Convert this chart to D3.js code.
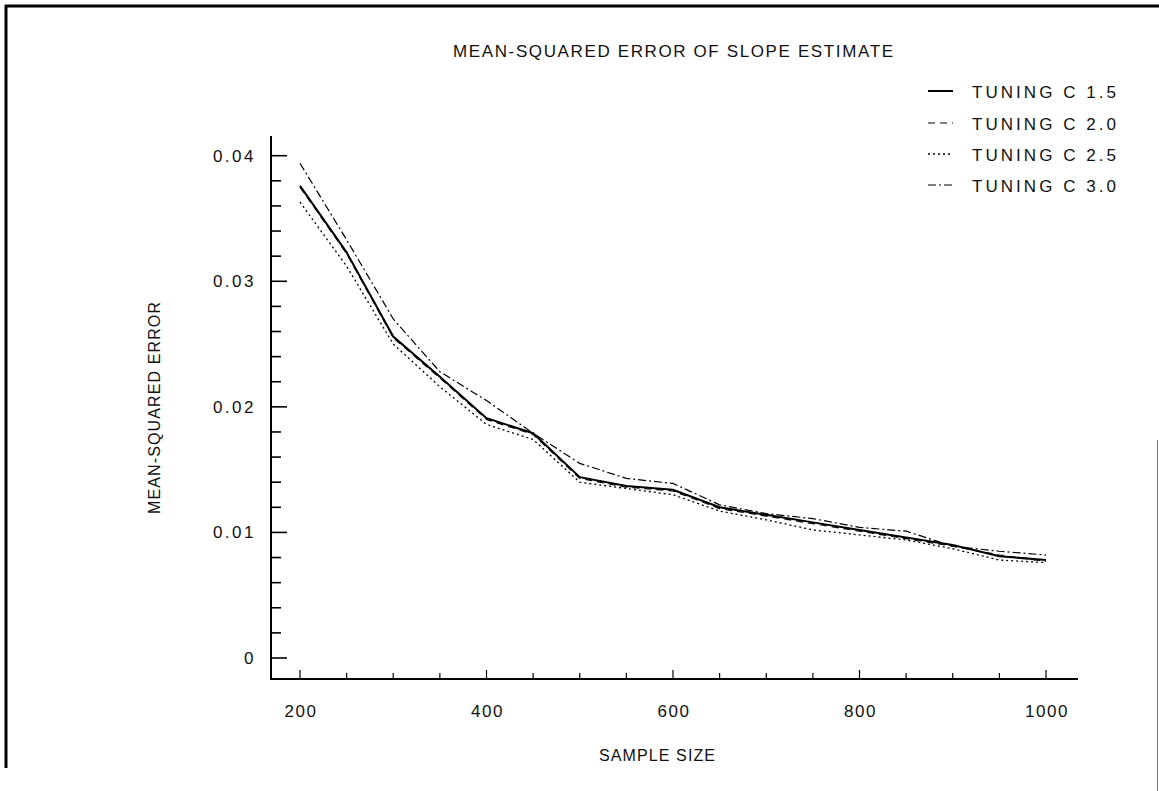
<!DOCTYPE html>
<html><head><meta charset="utf-8">
<script src="https://cdn.jsdelivr.net/npm/d3@7"></script>
<style>
html,body{margin:0;padding:0;background:#fff;}
text{font-family:"Liberation Sans","DejaVu Sans",sans-serif;fill:#111;}
</style></head>
<body>
<svg id="c" width="1159" height="791"></svg>
<script>
const sampleSizes = [200,250,300,350,400,450,500,550,600,650,700,750,800,850,900,950,1000];
const tuning15 = [0.0376,0.0323,0.0256,0.0224,0.0191,0.0179,0.0144,0.0137,0.0134,0.0120,0.0114,0.0108,0.0102,0.0096,0.0090,0.0081,0.0078];
const tuning20 = [0.0375,0.0322,0.0255,0.0223,0.0190,0.0178,0.0143,0.0136,0.0133,0.0119,0.0113,0.0107,0.0101,0.0095,0.0089,0.0082,0.0077];
const tuning25 = [0.0363,0.0312,0.0250,0.0216,0.0186,0.0174,0.0140,0.0135,0.0130,0.0117,0.0110,0.0102,0.0098,0.0094,0.0087,0.0078,0.0076];
const tuning30 = [0.0394,0.0333,0.0270,0.0228,0.0205,0.0179,0.0155,0.0143,0.0139,0.0122,0.0115,0.0111,0.0104,0.0101,0.0089,0.0085,0.0082];
const seriesNames = ["TUNING C 1.5","TUNING C 2.0","TUNING C 2.5","TUNING C 3.0"];
const xTicks = [200,400,600,800,1000];
const yTicks = [0,0.01,0.02,0.03,0.04];
const titleText = "MEAN-SQUARED ERROR OF SLOPE ESTIMATE";
const xTitle = "SAMPLE SIZE";
const yTitle = "MEAN-SQUARED ERROR";

const svg = d3.select("#c");
const x = d3.scaleLinear().domain([200,1000]).range([300,1046]);
const y = d3.scaleLinear().domain([0,0.04]).range([658,155.7]);
const xAxisY = 679, yAxisX = 271;
const xEnd = 1078, yTop = 136;

// frame
svg.append("line").attr("x1",5).attr("x2",1159).attr("y1",6).attr("y2",6).attr("stroke","#000").attr("stroke-width",3);
svg.append("line").attr("x1",6).attr("x2",6).attr("y1",5).attr("y2",768).attr("stroke","#000").attr("stroke-width",3);
svg.append("line").attr("x1",1157.5).attr("x2",1157.5).attr("y1",440).attr("y2",791).attr("stroke","#777").attr("stroke-width",1);

// axes lines
svg.append("line").attr("x1",yAxisX).attr("x2",yAxisX).attr("y1",yTop).attr("y2",xAxisY+1).attr("stroke","#000").attr("stroke-width",2);
svg.append("line").attr("x1",yAxisX).attr("x2",xEnd).attr("y1",xAxisY).attr("y2",xAxisY).attr("stroke","#000").attr("stroke-width",2);

// y ticks
const yMinor = d3.range(0,0.0411,0.002);
svg.append("g").selectAll("line").data(yMinor).join("line")
  .attr("x1",yAxisX).attr("y1",d=>y(d)).attr("y2",d=>y(d))
  .attr("x2",d=>Math.abs(d/0.01-Math.round(d/0.01))<1e-6 ? yAxisX+16 : yAxisX+10)
  .attr("stroke","#000").attr("stroke-width",1.6);
svg.append("g").selectAll("text").data(yTicks).join("text")
  .attr("x",256).attr("y",d=>y(d)+6).attr("text-anchor","end")
  .style("font-size","17px").style("letter-spacing","2.5px")
  .text(d=>d===0?"0":d3.format(".2f")(d));

// x ticks
const xMinor = d3.range(200,1001,50);
svg.append("g").selectAll("line").data(xMinor).join("line")
  .attr("x1",d=>x(d)).attr("x2",d=>x(d)).attr("y1",xAxisY)
  .attr("y2",d=>d%200===0 ? xAxisY-9 : xAxisY-6)
  .attr("stroke","#000").attr("stroke-width",1.2);
svg.append("g").selectAll("text").data(xTicks).join("text")
  .attr("x",d=>x(d)+1).attr("y",717).attr("text-anchor","middle")
  .style("font-size","17px").style("letter-spacing","1.5px")
  .text(d=>d);

// titles
svg.append("text").attr("x",673).attr("y",57).attr("text-anchor","middle")
  .style("font-size","17px").attr("textLength",440).attr("lengthAdjust","spacing").text(titleText);
svg.append("text").attr("x",657).attr("y",761).attr("text-anchor","middle")
  .style("font-size","16px").attr("textLength",116).attr("lengthAdjust","spacing").text(xTitle);
svg.append("text").attr("transform","translate(160,408) rotate(-90)").attr("text-anchor","middle")
  .style("font-size","16px").attr("textLength",212).attr("lengthAdjust","spacing").text(yTitle);

// series
const dashes = [null,"7,5","2,3","8,3,2,3"];
const widths = [2,1.2,1.3,1.2];
const data = [tuning15,tuning20,tuning25,tuning30];
const line = d3.line().x((d,i)=>x(sampleSizes[i])).y(d=>y(d));
data.forEach((s,k)=>{
  svg.append("path").datum(s).attr("d",line).attr("fill","none")
    .attr("stroke","#000").attr("stroke-width",widths[k])
    .attr("stroke-dasharray",dashes[k]);
});

// legend
const legY = [91,123,154,185];
seriesNames.forEach((n,k)=>{
  svg.append("line").attr("x1",928).attr("x2",953).attr("y1",legY[k]).attr("y2",legY[k])
    .attr("stroke","#000").attr("stroke-width",widths[k]).attr("stroke-dasharray",dashes[k]);
  svg.append("text").attr("x",972).attr("y",legY[k]+7).style("font-size","17px")
    .attr("textLength",144).attr("lengthAdjust","spacing").text(n);
});
</script>
</body></html>
